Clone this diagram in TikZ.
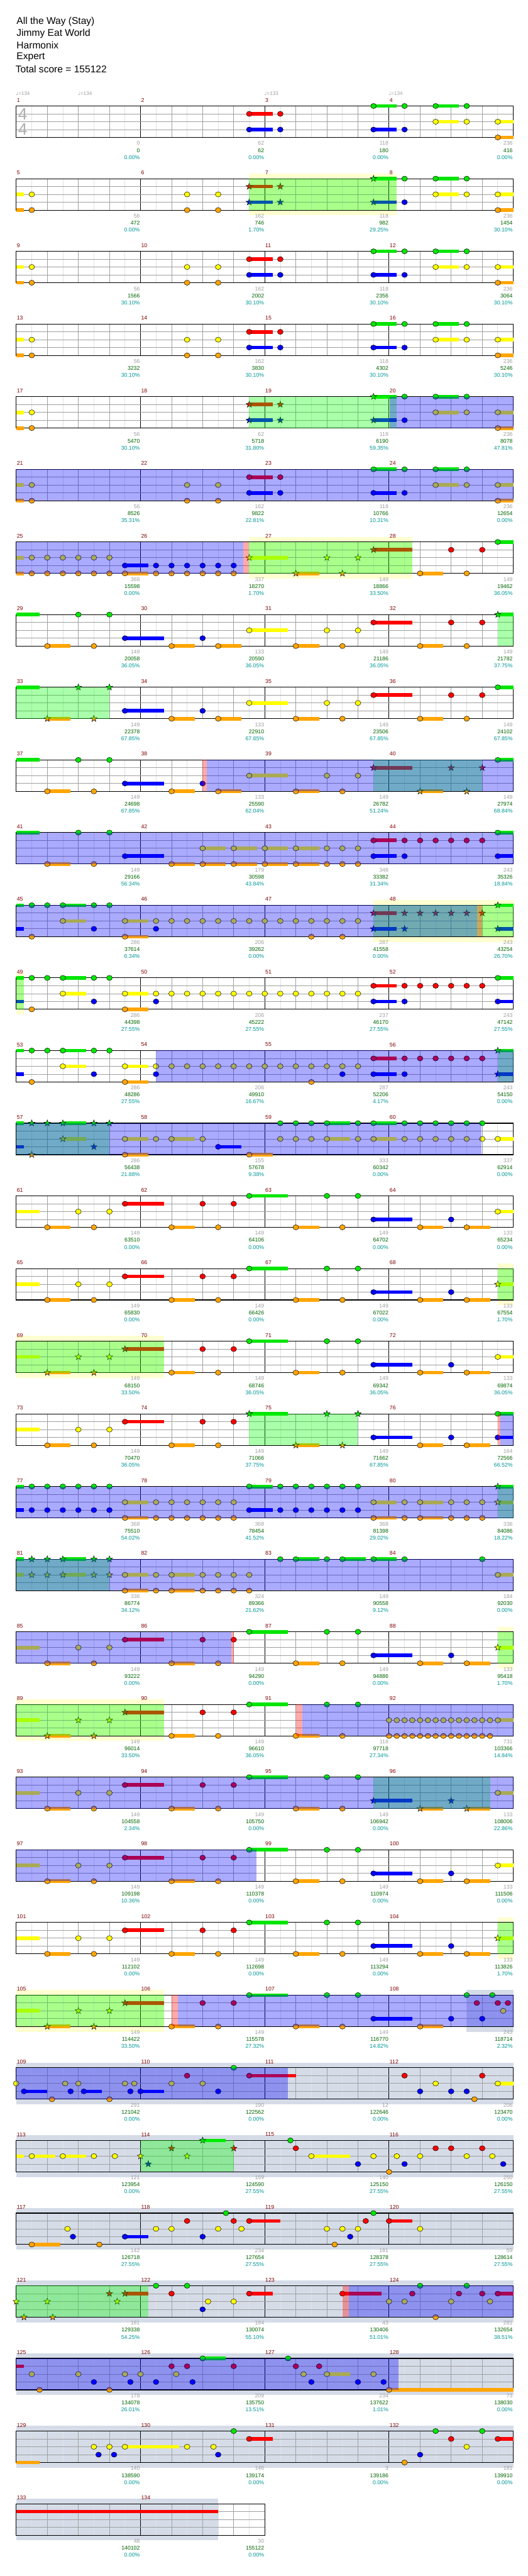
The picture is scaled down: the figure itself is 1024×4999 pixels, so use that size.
\documentclass[tikz,border=0pt]{standalone}
\usepackage{fontspec}
\setmainfont{Liberation Sans}
\newfontfamily\symfont{DejaVu Sans}
\usetikzlibrary{calc}

\definecolor{lane0}{RGB}{0,230,0}
\definecolor{lane1}{RGB}{255,0,0}
\definecolor{lane2}{RGB}{255,255,0}
\definecolor{lane3}{RGB}{0,0,255}
\definecolor{lane4}{RGB}{255,165,0}
\definecolor{mred}{RGB}{128,0,0}
\definecolor{sgray}{RGB}{160,160,160}
\definecolor{sgreen}{RGB}{0,100,0}
\definecolor{steal}{RGB}{0,150,150}
\definecolor{bgyellow}{RGB}{255,255,208}
\definecolor{bgslate}{RGB}{213,220,232}

\tikzset{
  grid0/.style={draw={rgb,255:red,226;green,226;blue,226}, line width=0.75pt},
  grid1/.style={draw={rgb,255:red,160;green,160;blue,160}, line width=0.75pt},
  grid2/.style={draw=black, line width=0.75pt},
  lanegrid/.style={draw={rgb,255:red,160;green,160;blue,160}, line width=0.75pt},
  staffline/.style={draw=black, line width=1pt},
  head/.style={draw=black, line width=0.45pt},
  mnum/.style={anchor=west, inner sep=0pt, text=mred, font=\fontsize{8}{9}\selectfont},
  snum/.style={anchor=east, inner sep=0pt, font=\fontsize{8}{9}\selectfont},
  odfill/.style={fill=blue, fill opacity=0.333},
  spfill/.style={fill={rgb,255:red,0;green,255;blue,0}, fill opacity=0.333},
  odmark/.style={fill=red, fill opacity=0.333},
  title/.style={anchor=west, inner sep=0pt, font=\fontsize{14.25}{16}\selectfont},
}

% staff of one row: row, measures
\newcommand{\staff}[2]{%
  \pgfmathsetmacro{\ty}{205.7+(#1-1)*141}%
  \pgfmathsetmacro{\rx}{31.5+#2*241.28}%
  \pgfmathtruncatemacro{\nlast}{#2*8-1}%
  \foreach \i in {1,...,\nlast}{%
    \pgfmathsetmacro{\gx}{31.5+\i*30.16}%
    \pgfmathtruncatemacro{\gk}{mod(\i,8)==0 ? 2 : (mod(\i,2)==0 ? 1 : 0)}%
    \draw[grid\gk] (\gx,\ty) -- (\gx,{\ty+61});
  }
  \foreach \lid in {1,2,3}{%
    \draw[lanegrid] (31.5,{\ty+\lid*15.25}) -- (\rx,{\ty+\lid*15.25});
  }
  \draw[staffline] (31.5,\ty) rectangle (\rx,{\ty+61});
  \foreach \m in {1,...,#2}{%
    \pgfmathtruncatemacro{\mn}{4*(#1-1)+\m}%
    \node[mnum] (m\mn) at ({32.5+(\m-1)*241.28}, {\ty-11.5}) {\mn};
  }}

% numbers under a row: row, list of measure/gain/total/percent
\newcommand{\scores}[2]{%
  \pgfmathsetmacro{\ty}{205.7+(#1-1)*141}%
  \foreach \m/\va/\vb/\vc in {#2}{%
    \pgfmathsetmacro{\sx}{31.5+\m*241.28-1}%
    \node[snum, text=sgray] (a#1-\m) at (\sx,{\ty+72.5}) {\va};
    \node[snum, text=sgreen] (b#1-\m) at (\sx,{\ty+86}) {\vb};
    \node[snum, text=steal] (c#1-\m) at (\sx,{\ty+99.5}) {\vc\%};
  }}

% notes: row, lane, positions in eighths
\newcommand{\nhit}[3]{%
  \foreach \p in {#3}{%
    \pgfmathsetmacro{\nx}{31.5+\p*30.16}%
    \pgfmathsetmacro{\ny}{205.7+(#1-1)*141+#2*15.25}%
    \draw[head, fill=lane#2] (\nx,\ny) ellipse [x radius=5.5, y radius=5];
  }}
\newcommand{\nhold}[3]{%
  \foreach \p/\e in {#3}{%
    \pgfmathsetmacro{\nx}{31.5+\p*30.16}%
    \pgfmathsetmacro{\ex}{31.5+\e*30.16}%
    \pgfmathsetmacro{\ny}{205.7+(#1-1)*141+#2*15.25}%
    \fill[lane#2] (\nx,{\ny-3.5}) rectangle (\ex,{\ny+3.5});
    \draw[head, fill=lane#2] (\nx,\ny) ellipse [x radius=5.5, y radius=5];
  }}
\newcommand{\ntail}[3]{%
  \foreach \p/\e in {#3}{%
    \pgfmathsetmacro{\nx}{31.5+\p*30.16}%
    \pgfmathsetmacro{\ex}{31.5+\e*30.16}%
    \pgfmathsetmacro{\ny}{205.7+(#1-1)*141+#2*15.25}%
    \fill[lane#2] (\nx,{\ny-3.5}) rectangle (\ex,{\ny+3.5});
  }}
\newcommand{\starat}[3]{%
  \draw[head, fill=#3, shift={(#1,#2)}] (-90:6.5) -- (-54:2.6) -- (-18:6.5) -- (18:2.6)
    -- (54:6.5) -- (90:2.6) -- (126:6.5) -- (162:2.6) -- (198:6.5) -- (234:2.6) -- cycle;}
\newcommand{\sphit}[3]{%
  \foreach \p in {#3}{%
    \pgfmathsetmacro{\nx}{31.5+\p*30.16}%
    \pgfmathsetmacro{\ny}{205.7+(#1-1)*141+#2*15.25}%
    \starat{\nx}{\ny}{lane#2}
  }}
\newcommand{\sphold}[3]{%
  \foreach \p/\e in {#3}{%
    \pgfmathsetmacro{\nx}{31.5+\p*30.16}%
    \pgfmathsetmacro{\ex}{31.5+\e*30.16}%
    \pgfmathsetmacro{\ny}{205.7+(#1-1)*141+#2*15.25}%
    \fill[lane#2] (\nx,{\ny-3.5}) rectangle (\ex,{\ny+3.5});
    \starat{\nx}{\ny}{lane#2}
  }}

% zones: row, from, to (eighths)
\newcommand{\odzone}[3]{%
  \pgfmathsetmacro{\ty}{205.7+(#1-1)*141}%
  \fill[odfill] ({31.5+#2*30.16},\ty) rectangle ({31.5+#3*30.16},{\ty+61});}
\newcommand{\spzone}[3]{%
  \pgfmathsetmacro{\ty}{205.7+(#1-1)*141}%
  \fill[spfill] ({31.5+#2*30.16},\ty) rectangle ({31.5+#3*30.16},{\ty+61});}
\newcommand{\odstart}[3]{%
  \pgfmathsetmacro{\ty}{205.7+(#1-1)*141}%
  \fill[odmark] ({31.5+#2*30.16},\ty) rectangle ({31.5+#3*30.16},{\ty+61});}
\newcommand{\bgyel}[3]{%
  \pgfmathsetmacro{\ty}{205.7+(#1-1)*141}%
  \fill[bgyellow] ({31.5+#2*30.16},{\ty-10}) rectangle ({31.5+#3*30.16},{\ty+71});}
\newcommand{\bgslate}[3]{%
  \pgfmathsetmacro{\ty}{205.7+(#1-1)*141}%
  \fill[bgslate] ({31.5+#2*30.16},{\ty-10}) rectangle ({31.5+#3*30.16},{\ty+71});}

\begin{document}
\begin{tikzpicture}[x=0.75pt, y=-0.75pt]
    \fill[white] (0,0) rectangle (1024,4999);
    \useasboundingbox (0,0) rectangle (1024,4999);

    % header
    \node[title] (song) at (32, 42.3) {All the Way (Stay)};
    \node[title] (artist) at (32, 65.3) {Jimmy Eat World};
    \node[title] (author) at (32, 88.3) {Harmonix};
    \node[title] (level) at (32, 111.3) {Expert};
    \node[title] (total) at (30, 134.3) {Total score = 155122};

    % row 1
    \staff{1}{4}
    \foreach \p/\t in {0/134,4/134,16/133,24/134}{
        \node[anchor=west, inner sep=0pt, text=sgray, font=\fontsize{7.5}{8}\selectfont]
            (tempo\p) at ({30.5+\p*30.16}, 181) {{\symfont\char"2669}=\t};
    }
    \node[text={rgb,255:red,175;green,175;blue,175}, inner sep=0pt, font=\fontsize{24}{24}\selectfont] (tsa) at (44, 221) {4};
    \node[text={rgb,255:red,175;green,175;blue,175}, inner sep=0pt, font=\fontsize{24}{24}\selectfont] (tsb) at (44, 251.3) {4};
    \nhold{1}{1}{15/16.5}\nhit{1}{1}{17}
    \nhold{1}{3}{15/16.5,23/24.5}\nhit{1}{3}{17,25}
    \nhold{1}{0}{23/24.5,27/28.5}\nhit{1}{0}{25,29}
    \nhold{1}{2}{27/28.5,31/32}\nhit{1}{2}{29}
    \nhold{1}{4}{31/32}
    \scores{1}{1/0/0/0.00,2/62/62/0.00,3/118/180/0.00,4/236/416/0.00}

    % row 2
    \bgyel{2}{15}{24.5}
    \staff{2}{4}
    \ntail{2}{2}{0/0.5}\nhit{2}{2}{1,11,13,29}\nhold{2}{2}{27/28.5,31/32}
    \ntail{2}{4}{0/0.5}\nhit{2}{4}{1,11,13}\nhold{2}{4}{31/32}
    \sphold{2}{1}{15/16.5}\sphit{2}{1}{17}
    \sphold{2}{3}{15/16.5,23/24.5}\sphit{2}{3}{17}\nhit{2}{3}{25}
    \sphold{2}{0}{23/24.5}\nhit{2}{0}{25,29}\nhold{2}{0}{27/28.5}
    \spzone{2}{15}{24.5}
    \scores{2}{1/56/472/0.00,2/162/746/1.70,3/118/982/29.25,4/236/1454/30.10}

    % rows 3 and 4
    \foreach \r in {3,4}{
        \staff{\r}{4}
        \ntail{\r}{2}{0/0.5}\nhit{\r}{2}{1,11,13,29}\nhold{\r}{2}{27/28.5,31/32}
        \ntail{\r}{4}{0/0.5}\nhit{\r}{4}{1,11,13}\nhold{\r}{4}{31/32}
        \nhold{\r}{1}{15/16.5}\nhit{\r}{1}{17}
        \nhold{\r}{3}{15/16.5,23/24.5}\nhit{\r}{3}{17,25}
        \nhold{\r}{0}{23/24.5,27/28.5}\nhit{\r}{0}{25,29}
    }
    \scores{3}{1/56/1566/30.10,2/162/2002/30.10,3/118/2356/30.10,4/236/3064/30.10}
    \scores{4}{1/56/3232/30.10,2/162/3830/30.10,3/118/4302/30.10,4/236/5246/30.10}

    % row 5
    \staff{5}{4}
    \ntail{5}{2}{0/0.5}\nhit{5}{2}{1,29}\nhold{5}{2}{27/28.5,31/32}
    \ntail{5}{4}{0/0.5}\nhit{5}{4}{1}\nhold{5}{4}{31/32}
    \sphold{5}{1}{15/16.5}\sphit{5}{1}{17}
    \sphold{5}{3}{15/16.5,23/24.5}\sphit{5}{3}{17}\nhit{5}{3}{25}
    \sphold{5}{0}{23/24.5}\nhit{5}{0}{25,29}\nhold{5}{0}{27/28.5}
    \spzone{5}{15}{24.5}
    \odzone{5}{24.05}{32}
    \scores{5}{1/56/5470/30.10,2/62/5718/31.80,3/118/6190/59.35,4/236/8078/47.81}

    % row 6
    \staff{6}{4}
    \ntail{6}{2}{0/0.5}\nhit{6}{2}{1,11,13,29}\nhold{6}{2}{27/28.5,31/32}
    \ntail{6}{4}{0/0.5}\nhit{6}{4}{1,11,13}\nhold{6}{4}{31/32}
    \nhold{6}{1}{15/16.5}\nhit{6}{1}{17}
    \nhold{6}{3}{15/16.5,23/24.5}\nhit{6}{3}{17,25}
    \nhold{6}{0}{23/24.5,27/28.5}\nhit{6}{0}{25,29}
    \odzone{6}{0}{32}
    \scores{6}{1/56/8526/35.31,2/162/9822/22.81,3/118/10766/10.31,4/236/12654/0.00}

    % row 7
    \bgyel{7}{15}{25.5}
    \staff{7}{4}
    \ntail{7}{2}{0/0.5}\nhit{7}{2}{1,...,6}
    \ntail{7}{4}{0/0.5}\nhit{7}{4}{1,...,6,9,10,11,12,13,14}\nhold{7}{4}{7/8.5}
    \nhold{7}{3}{7/8.5}\nhit{7}{3}{9,...,14}
    \sphold{7}{2}{15/17.5}\sphit{7}{2}{20,22}
    \sphold{7}{4}{18/19.5}\sphit{7}{4}{21}
    \sphold{7}{1}{23/25.5}
    \nhit{7}{1}{28,30}
    \nhold{7}{4}{26/27.5}\nhit{7}{4}{29}
    \nhold{7}{0}{31/32}
    \odzone{7}{0}{14.6}\odstart{7}{14.6}{15}
    \spzone{7}{15}{25.5}
    \scores{7}{1/368/15598/0.00,2/337/18270/1.70,3/149/18866/33.50,4/149/19462/36.05}

    % row 8
    \staff{8}{4}
    \ntail{8}{0}{0/1.5}\nhit{8}{0}{4,6}
    \nhold{8}{4}{2/3.5,10/11.5,13/14.5,18/19.5,26/27.5}\nhit{8}{4}{5,21,29}
    \nhold{8}{3}{7/9.5}\nhit{8}{3}{12}
    \nhold{8}{2}{15/17.5}\nhit{8}{2}{20,22}
    \nhold{8}{1}{23/25.5}\nhit{8}{1}{28,30}
    \sphold{8}{0}{31/32}
    \spzone{8}{31}{32}
    \scores{8}{1/149/20058/36.05,2/133/20590/36.05,3/149/21186/36.05,4/149/21782/37.75}

    % row 9
    \staff{9}{4}
    \ntail{9}{0}{0/1.5}\sphit{9}{0}{4,6}
    \sphold{9}{4}{2/3.5}\sphit{9}{4}{5}
    \nhold{9}{3}{7/9.5}\nhit{9}{3}{12}
    \nhold{9}{4}{10/11.5,13/14.5,18/19.5,26/27.5}\nhit{9}{4}{21,29}
    \nhold{9}{2}{15/17.5}\nhit{9}{2}{20,22}
    \nhold{9}{1}{23/25.5}\nhit{9}{1}{28,30}
    \nhold{9}{0}{31/32}
    \spzone{9}{0}{6}
    \scores{9}{1/149/22378/67.85,2/133/22910/67.85,3/149/23506/67.85,4/149/24102/67.85}

    % row 10
    \staff{10}{4}
    \ntail{10}{0}{0/1.5}\nhit{10}{0}{4,6}
    \nhold{10}{4}{2/3.5,10/11.5,13/14.5,18/19.5}\nhit{10}{4}{5,21}
    \sphold{10}{4}{26/27.5}\sphit{10}{4}{29}
    \nhold{10}{3}{7/9.5}\nhit{10}{3}{12}
    \nhold{10}{2}{15/17.5}\nhit{10}{2}{20,22}
    \sphold{10}{1}{23/25.5}\sphit{10}{1}{28,30}
    \nhold{10}{0}{31/32}
    \spzone{10}{23}{30}
    \odstart{10}{12}{12.26}\odzone{10}{12.26}{32}
    \scores{10}{1/149/24698/67.85,2/133/25590/62.04,3/149/26782/51.24,4/149/27974/68.84}

    % row 11
    \staff{11}{4}
    \ntail{11}{0}{0/1.5}\nhit{11}{0}{4,6}\nhold{11}{0}{31/32}
    \nhold{11}{4}{2/3.5,10/11.5,12/13.5,14/15.5,16/17.5,18/19.5}\nhit{11}{4}{5,20,21,22}
    \nhold{11}{2}{12/13.5,14/15.5,16/17.5,18/19.5}\nhit{11}{2}{20,21,22}
    \nhold{11}{3}{7/9.5,23/24.5,31/32}\nhit{11}{3}{25}
    \nhold{11}{1}{23/24.5}\nhit{11}{1}{25,...,30}
    \odzone{11}{0}{32}
    \scores{11}{1/149/29166/56.34,2/179/30598/43.84,3/348/33382/31.34,4/243/35326/18.84}

    % row 12
    \bgyel{12}{23}{32}
    \staff{12}{4}
    \ntail{12}{0}{0/0.5}\nhit{12}{0}{1,2,5,6}\nhold{12}{0}{3/4.5}\sphold{12}{0}{31/32}
    \nhold{12}{2}{3/4.5,7/8.5}\nhit{12}{2}{9,...,22}
    \ntail{12}{3}{0/0.5}\nhit{12}{3}{5,9}\sphold{12}{3}{23/24.5,31/32}\sphit{12}{3}{25}
    \nhit{12}{4}{1,19,21}\nhold{12}{4}{7/8.5}
    \sphold{12}{1}{23/24.5}\sphit{12}{1}{25,...,30}
    \spzone{12}{23}{32}
    \odzone{12}{0}{29.67}\odstart{12}{29.67}{30}
    \scores{12}{1/286/37614/6.34,2/206/39262/0.00,3/287/41558/0.00,4/243/43254/26.70}

    % row 13
    \bgyel{13}{0}{0.5}
    \staff{13}{4}
    \ntail{13}{0}{0/0.5}\nhit{13}{0}{1,2,5,6}\nhold{13}{0}{3/4.5,31/32}
    \nhold{13}{2}{3/4.5,7/8.5}\nhit{13}{2}{9,...,22}
    \ntail{13}{3}{0/0.5}\nhit{13}{3}{5,9,25}\nhold{13}{3}{23/24.5,31/32}
    \nhit{13}{4}{1}\nhold{13}{4}{7/8.5}
    \nhold{13}{1}{23/24.5}\nhit{13}{1}{25,...,30}
    \spzone{13}{0}{0.5}
    \scores{13}{1/286/44398/27.55,2/206/45222/27.55,3/237/46170/27.55,4/243/47142/27.55}

    % row 14
    \staff{14}{4}
    \ntail{14}{0}{0/0.5}\nhit{14}{0}{1,2,5,6}\nhold{14}{0}{3/4.5}\sphold{14}{0}{31/32}
    \nhold{14}{2}{3/4.5,7/8.5}\nhit{14}{2}{9,...,22}
    \ntail{14}{3}{0/0.5}\nhit{14}{3}{5,9,21,25}\nhold{14}{3}{23/24.5}\sphold{14}{3}{31/32}
    \nhit{14}{4}{1,19}\nhold{14}{4}{7/8.5}
    \nhold{14}{1}{23/24.5}\nhit{14}{1}{25,...,30}
    \spzone{14}{31}{32}
    \odzone{14}{9}{32}
    \scores{14}{1/286/48286/27.55,2/206/49910/16.67,3/287/52206/4.17,4/243/54150/0.00}

    % row 15
    \staff{15}{4}
    \ntail{15}{0}{0/0.5}\sphit{15}{0}{1,2,5,6}\sphold{15}{0}{3/4.5}
    \nhit{15}{0}{17,18,19,22,25,26,27,28,29,30}\nhold{15}{0}{20/21.5,23/24.5}
    \sphold{15}{2}{3/4.5}\nhold{15}{2}{7/8.5,10/11.5,20/21.5,23/24.5,31/32}
    \nhit{15}{2}{9,12,17,18,19,22,25,26,27,28,29,30}
    \ntail{15}{3}{0/0.5}\sphit{15}{3}{5}\nhold{15}{3}{13/14.5}
    \sphit{15}{4}{1}\nhold{15}{4}{7/8.5,15/16.5}
    \spzone{15}{0}{6}
    \odzone{15}{0}{29.95}
    \scores{15}{1/286/56438/21.88,2/155/57678/9.38,3/333/60342/0.00,4/337/62914/0.00}

    % row 16
    \staff{16}{4}
    \ntail{16}{2}{0/1.5}\nhit{16}{2}{4,6}\nhold{16}{2}{31/32}
    \nhold{16}{4}{2/3.5,10/11.5,18/19.5,26/27.5,29/30.5}\nhit{16}{4}{5,13,21}
    \nhold{16}{1}{7/9.5}\nhit{16}{1}{12,14}
    \nhold{16}{0}{15/17.5}\nhit{16}{0}{20,22}
    \nhold{16}{3}{23/25.5}\nhit{16}{3}{28}
    \scores{16}{1/149/63510/0.00,2/149/64106/0.00,3/149/64702/0.00,4/133/65234/0.00}

    % row 17
    \bgyel{17}{31}{32}
    \staff{17}{4}
    \ntail{17}{2}{0/1.5}\nhit{17}{2}{4,6}\sphold{17}{2}{31/32}
    \nhold{17}{4}{2/3.5,10/11.5,18/19.5,26/27.5,29/30.5}\nhit{17}{4}{5,13,21}
    \nhold{17}{1}{7/9.5}\nhit{17}{1}{12,14}
    \nhold{17}{0}{15/17.5}\nhit{17}{0}{20,22}
    \nhold{17}{3}{23/25.5}\nhit{17}{3}{28}
    \spzone{17}{31}{32}
    \scores{17}{1/149/65830/0.00,2/149/66426/0.00,3/149/67022/0.00,4/133/67554/1.70}

    % row 18
    \bgyel{18}{0}{9.5}
    \staff{18}{4}
    \ntail{18}{2}{0/1.5}\sphit{18}{2}{4,6}\nhold{18}{2}{31/32}
    \sphold{18}{4}{2/3.5}\sphit{18}{4}{5}
    \nhold{18}{4}{10/11.5,18/19.5,26/27.5,29/30.5}\nhit{18}{4}{13,21}
    \sphold{18}{1}{7/9.5}\nhit{18}{1}{12,14}
    \nhold{18}{0}{15/17.5}\nhit{18}{0}{20,22}
    \nhold{18}{3}{23/25.5}\nhit{18}{3}{28}
    \spzone{18}{0}{9.5}
    \scores{18}{1/149/68150/33.50,2/149/68746/36.05,3/149/69342/36.05,4/133/69874/36.05}

    % row 19
    \staff{19}{4}
    \ntail{19}{2}{0/1.5}\nhit{19}{2}{4,6}
    \nhold{19}{4}{2/3.5,10/11.5,26/27.5,29/30.5}\nhit{19}{4}{5,13}
    \sphold{19}{4}{18/19.5}\sphit{19}{4}{21}
    \nhold{19}{1}{7/9.5}\nhit{19}{1}{12,14}
    \sphold{19}{0}{15/17.5}\sphit{19}{0}{20,22}\nhold{19}{0}{31/32}
    \nhold{19}{3}{23/25.5,31/32}\nhit{19}{3}{28}
    \spzone{19}{15}{22}
    \odstart{19}{31}{31.15}\odzone{19}{31.15}{32}
    \scores{19}{1/149/70470/36.05,2/149/71066/37.75,3/149/71662/67.85,4/164/72566/66.52}

    % row 20
    \staff{20}{4}
    \ntail{20}{0}{0/0.5}\nhit{20}{0}{1,...,6,17,18,19,20,21,22}\nhold{20}{0}{15/16.5}\sphold{20}{0}{31/32}
    \ntail{20}{3}{0/0.5}\nhit{20}{3}{1,...,6,17,18,19,20,21,22}\nhold{20}{3}{15/16.5}
    \nhold{20}{2}{7/8.5,23/24.5,26/27.5}\nhit{20}{2}{9,...,14,25,28,29,30}\sphold{20}{2}{31/32}
    \nhold{20}{4}{7/8.5,23/24.5,26/27.5}\nhit{20}{4}{9,...,14,25,28,29,30}
    \spzone{20}{31}{32}
    \odzone{20}{0}{32}
    \scores{20}{1/368/75510/54.02,2/368/78454/41.52,3/368/81398/29.02,4/336/84086/18.22}

    % row 21
    \staff{21}{4}
    \ntail{21}{0}{0/0.5}\sphit{21}{0}{1,2,5,6}\sphold{21}{0}{3/4.5}
    \nhit{21}{0}{17,20,25,...,30}\nhold{21}{0}{18/19.5,21/22.5,23/24.5}
    \ntail{21}{2}{0/0.5}\sphit{21}{2}{1,2,5,6}\sphold{21}{2}{3/4.5}
    \nhold{21}{2}{7/8.5,10/11.5,31/32}\nhit{21}{2}{9,12,13,14,15}
    \nhold{21}{4}{7/8.5,10/11.5}\nhit{21}{4}{9,12,13,14,15}
    \spzone{21}{0}{6}
    \odzone{21}{0}{32}
    \scores{21}{1/336/86774/34.12,2/324/89366/21.62,3/149/90558/9.12,4/184/92030/0.00}

    % row 22
    \bgyel{22}{31}{32}
    \staff{22}{4}
    \ntail{22}{2}{0/1.5}\nhit{22}{2}{4,6}\sphold{22}{2}{31/32}
    \nhold{22}{4}{2/3.5,10/11.5,18/19.5,26/27.5,29/30.5}\nhit{22}{4}{5,13,21}
    \nhold{22}{1}{7/9.5}\nhit{22}{1}{12,14}
    \nhold{22}{0}{15/17.5}\nhit{22}{0}{20,22}
    \nhold{22}{3}{23/25.5}\nhit{22}{3}{28}
    \spzone{22}{31}{32}
    \odzone{22}{0}{13.83}\odstart{22}{13.83}{14}
    \scores{22}{1/149/93222/0.00,2/149/94290/0.00,3/149/94886/0.00,4/133/95418/1.70}

    % row 23
    \bgyel{23}{0}{9.5}
    \staff{23}{4}
    \ntail{23}{2}{0/1.5}\sphit{23}{2}{4,6}\nhit{23}{2}{24,24.5,...,30.5}\nhold{23}{2}{31/32}
    \sphold{23}{4}{2/3.5}\sphit{23}{4}{5}
    \nhold{23}{4}{10/11.5,18/19.5}\nhit{23}{4}{13,21,24,24.5,...,30.5}
    \sphold{23}{1}{7/9.5}\nhit{23}{1}{12,14}
    \nhold{23}{0}{15/17.5}\nhit{23}{0}{20,22}
    \spzone{23}{0}{9.5}
    \odstart{23}{18}{18.4}\odzone{23}{18.4}{32}
    \scores{23}{1/149/96014/33.50,2/149/96610/36.05,3/118/97718/27.34,4/731/103366/14.84}

    % row 24
    \staff{24}{4}
    \ntail{24}{2}{0/1.5}\nhit{24}{2}{4,6}\nhold{24}{2}{31/32}
    \nhold{24}{4}{2/3.5,10/11.5,18/19.5}\nhit{24}{4}{5,13,21}
    \sphold{24}{4}{26/27.5,29/30.5}
    \nhold{24}{1}{7/9.5}\nhit{24}{1}{12,14}
    \nhold{24}{0}{15/17.5}\nhit{24}{0}{20,22}
    \sphold{24}{3}{23/25.5}\sphit{24}{3}{28}
    \spzone{24}{23}{30.5}
    \odzone{24}{0}{32}
    \scores{24}{1/149/104558/2.34,2/149/105750/0.00,3/149/106942/0.00,4/133/108006/22.86}

    % row 25
    \staff{25}{4}
    \ntail{25}{2}{0/1.5}\nhit{25}{2}{4,6}\nhold{25}{2}{31/32}
    \nhold{25}{4}{2/3.5,10/11.5,18/19.5,26/27.5,29/30.5}\nhit{25}{4}{5,13,21}
    \nhold{25}{1}{7/9.5}\nhit{25}{1}{12,14}
    \nhold{25}{0}{15/17.5}\nhit{25}{0}{20,22}
    \nhold{25}{3}{23/25.5}\nhit{25}{3}{28}
    \odzone{25}{0}{15.47}
    \scores{25}{1/149/109198/10.36,2/149/110378/0.00,3/149/110974/0.00,4/133/111506/0.00}

    % row 26
    \bgyel{26}{31}{32}
    \staff{26}{4}
    \ntail{26}{2}{0/1.5}\nhit{26}{2}{4,6}\sphold{26}{2}{31/32}
    \nhold{26}{4}{2/3.5,10/11.5,18/19.5,26/27.5,29/30.5}\nhit{26}{4}{5,13,21}
    \nhold{26}{1}{7/9.5}\nhit{26}{1}{12,14}
    \nhold{26}{0}{15/17.5}\nhit{26}{0}{20,22}
    \nhold{26}{3}{23/25.5}\nhit{26}{3}{28}
    \spzone{26}{31}{32}
    \scores{26}{1/149/112102/0.00,2/149/112698/0.00,3/149/113294/0.00,4/133/113826/1.70}

    % row 27
    \bgyel{27}{0}{9.5}\bgslate{27}{29}{32}
    \staff{27}{4}
    \ntail{27}{2}{0/1.5}\sphit{27}{2}{4,6}\nhit{27}{2}{31.35}
    \sphold{27}{4}{2/3.5}\sphit{27}{4}{5}
    \nhold{27}{4}{10/11.5,18/19.5,26/27.5}\nhit{27}{4}{13,21}
    \sphold{27}{1}{7/9.5}\nhit{27}{1}{12,14,29.65,31,31.65}
    \nhold{27}{0}{15/17.5}\nhit{27}{0}{20,22,29,30.65}
    \nhold{27}{3}{23/25.5}\nhit{27}{3}{28,30}
    \spzone{27}{0}{9.5}
    \odstart{27}{10}{10.4}\odzone{27}{10.4}{32}
    \scores{27}{1/149/114422/33.50,2/149/115578/27.32,3/149/116770/14.82,4/243/118714/2.32}

    % row 28
    \bgslate{28}{0}{32}
    \staff{28}{4}
    \nhit{28}{0}{14}
    \nhit{28}{1}{11,25,30}\nhold{28}{1}{15/18}
    \nhit{28}{2}{0,3.15,4,7,7.6,10,12,27}\nhold{28}{2}{31/32}
    \nhold{28}{3}{0.5/2,4.35/5.5,8/9.5}\nhit{28}{3}{3.5,7.35,13,26,28,29}
    \nhit{28}{4}{2.3,6,29.5}
    \odzone{28}{0}{17.47}
    \scores{28}{1/291/121042/0.00,2/190/122562/0.00,3/12/122646/0.00,4/206/123470/0.00}

    % row 29
    \bgslate{29}{0}{32}
    \staff{29}{4}
    \ntail{29}{2}{0/0.5}\nhold{29}{2}{1/2.5,3/4.5,19/21.5}\nhit{29}{2}{5,6.35,23,24.5,26,29,30.65}\sphit{29}{2}{8,11}
    \sphit{29}{3}{8.5}\nhit{29}{3}{22,25,31.35}
    \sphit{29}{1}{10,14}\nhit{29}{1}{18,27,28,30}
    \sphold{29}{0}{12/13.5}\nhit{29}{0}{17.65}
    \nhit{29}{4}{24}
    \spzone{29}{8}{14}
    \scores{29}{1/121/123954/0.00,2/159/124590/27.55,3/140/125150/27.55,4/250/126150/27.55}

    % row 30
    \bgslate{30}{0}{32}
    \staff{30}{4}
    \nhold{30}{4}{1/2.83}\nhit{30}{4}{5.35,20.5}
    \nhit{30}{2}{3.3,9,10,13,14.5,20,21,22,26}
    \nhold{30}{3}{7/8.5}\nhit{30}{3}{3.65,12,21.5}
    \nhit{30}{1}{11,14,22.5}\nhold{30}{1}{15/17,24/25.5}
    \nhit{30}{0}{13.5,23}
    \scores{30}{1/142/126718/27.55,2/234/127654/27.55,3/181/128378/27.55,4/59/128614/27.55}

    % row 31
    \bgslate{31}{0}{32}
    \staff{31}{4}
    \sphit{31}{2}{0,2,6.5}\nhit{31}{2}{12.35,14,24,25,28,30.5}
    \sphit{31}{4}{0.5,2.35}\nhit{31}{4}{27}
    \sphit{31}{1}{6}\sphold{31}{1}{7/8.5}\nhit{31}{1}{10,25.5,28.5,30}\nhold{31}{1}{15/16.5,21/23.5,31/32}
    \nhit{31}{0}{9,11,26,29}
    \nhit{31}{3}{12}
    \spzone{31}{0}{8.5}
    \odstart{31}{21}{21.4}\odzone{31}{21.4}{32}
    \scores{31}{1/181/129338/54.25,2/184/130074/55.10,3/43/130406/51.01,4/281/132654/38.51}

    % row 32
    \bgslate{32}{0}{32}
    \staff{32}{4}
    \ntail{32}{1}{0/0.5}\nhit{32}{1}{10,11,14,18,19.5}
    \nhold{32}{0}{12/13.5}\nhit{32}{0}{17.5}
    \nhit{32}{2}{1,4,7,8,10.3,18.5,23}\nhold{32}{2}{20/21.5}
    \nhit{32}{3}{5,7.35,9,11.35,19,22,23.65}
    \nhit{32}{4}{1.5,6}\nhold{32}{4}{24/32}
    \odzone{32}{0}{24.6}
    \scores{32}{1/178/134078/26.01,2/209/135750/13.51,3/234/137622/1.01,4/73/138030/0.00}

    % row 33
    \bgslate{33}{0}{32}
    \staff{33}{4}
    \ntail{33}{4}{0/1.5}\nhit{33}{4}{25}
    \nhit{33}{2}{5,6,11,12.7,29}\nhold{33}{2}{7/10.5}
    \nhit{33}{3}{5.3,6.3,13,26}
    \nhit{33}{0}{14,27,30}
    \nhold{33}{1}{15/16.5,31/32}\nhit{33}{1}{28}
    \scores{33}{1/140/138590/0.00,2/146/139174/0.00,3/3/139186/0.00,4/181/139910/0.00}

    % row 34
    \bgslate{34}{0}{13}
    \staff{34}{2}
    \ntail{34}{1}{0/13}
    \scores{34}{1/48/140102/0.00,2/30/155122/0.00}
\end{tikzpicture}
\end{document}
